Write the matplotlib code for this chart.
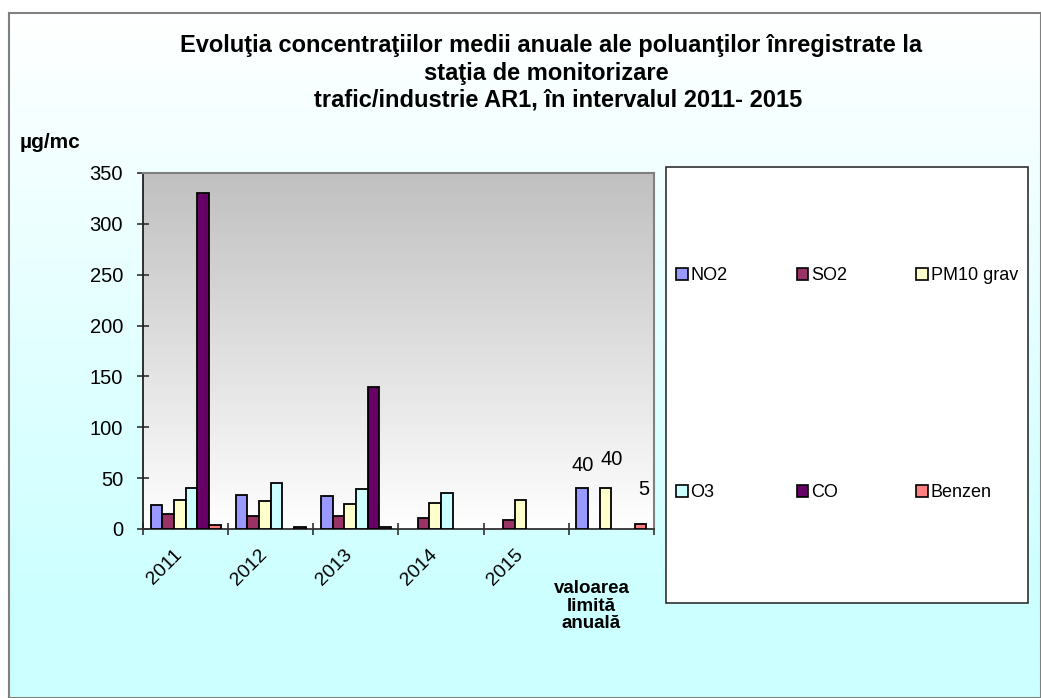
import numpy as np
import matplotlib
matplotlib.use("Agg")
import matplotlib.pyplot as plt
from matplotlib.patches import Rectangle, Patch

plt.rcParams['font.family'] = ['Liberation Sans', 'DejaVu Sans']

# Data
categories = ['2011', '2012', '2013', '2014', '2015', 'valoarea\nlimită\nanuală']
series_names = ['NO2', 'SO2', 'PM10 grav', 'O3', 'CO', 'Benzen']
no2 = [24, 33, 32, np.nan, np.nan, 40]
so2 = [15, 13, 13, 11, 8.5, np.nan]
pm10 = [29, 28, 25, 25.5, 28.5, 40]
o3 = [40, 45, 39, 35, np.nan, np.nan]
co = [330, np.nan, 140, np.nan, np.nan, np.nan]
benzen = [3.5, 2, 1.5, np.nan, np.nan, 5]
colors = ['#9999FF', '#993366', '#FFFFCC', '#CCFFFF', '#660066', '#FF8080']
y_ticks = [0, 50, 100, 150, 200, 250, 300, 350]
title_lines = ['Evoluţia concentraţiilor medii anuale ale poluanţilor înregistrate la',
               'staţia de monitorizare',
               'trafic/industrie AR1, în intervalul 2011- 2015']

W, H = 1041, 698
fig = plt.figure(figsize=(W / 100, H / 100), dpi=100)

# Chart area background: white to light cyan gradient, with grey border
bg = fig.add_axes([9 / W, 0, 1 - 9 / W, (H - 13) / H], zorder=0)
grad = np.linspace(0, 1, 256).reshape(-1, 1)
white = np.array([1.0, 1.0, 1.0])
cyan = np.array([0xCC, 0xFF, 0xFF]) / 255
bg.imshow(white + (cyan - white) * np.clip(grad * 1.15, 0, 1)[..., None],
          aspect='auto', extent=[0, 1, 0, 1])
bg.set_xlim(0, 1)
bg.set_ylim(0, 1)
bg.set_xticks([])
bg.set_yticks([])
for s in bg.spines.values():
    s.set_color('#808080')
    s.set_linewidth(1.5)

# Plot area
ax = fig.add_axes([143 / W, (H - 529) / H, (654 - 143) / W, (529 - 173) / H], zorder=2)
top_grey = np.array([0xC0, 0xC0, 0xC0]) / 255
pgrad = top_grey + (white - top_grey) * grad[..., None]
ax.imshow(pgrad, aspect='auto', extent=[0, 1, 0, 1], transform=ax.transAxes, zorder=0)

x = np.arange(len(categories))
width = 0.137
all_vals = [no2, so2, pm10, o3, co, benzen]
for i, (name, vals, col) in enumerate(zip(series_names, all_vals, colors)):
    ax.bar(x + (i - 2.5) * width, vals, width, color=col, edgecolor='black',
           linewidth=1.3, label=name, zorder=3)

ax.set_xlim(-0.5, len(categories) - 0.5)
ax.set_ylim(0, 350)

# Value labels on the annual limit group
limit_labels = [(0, 40), (2, 40), (5, 5)]
label_offsets = [(0, 16.5), (4.3, 21), (2.2, 25)]
for (si, val), (dx, dy) in zip(limit_labels, label_offsets):
    ax.annotate(f'{val}', xy=(5 + (si - 2.5) * width, val), xytext=(dx, dy),
                textcoords='offset points', ha='center', va='center', fontsize=14.5)

# Axes styling
for side in ['top', 'right']:
    ax.spines[side].set_color('#808080')
    ax.spines[side].set_linewidth(1.5)
ax.spines['left'].set_color('#202020')
ax.spines['left'].set_linewidth(1.3)
ax.spines['bottom'].set_color('#303030')
ax.spines['bottom'].set_linewidth(1.3)

ax.set_yticks(y_ticks)
ax.set_yticklabels([str(v) for v in y_ticks], fontsize=14.5)
ax.tick_params(axis='y', direction='inout', length=8.6, width=1.2, pad=10, color='#303030')

ax.set_xticks(x)
ax.set_xticklabels(categories[:-1] + [''], fontsize=14, rotation=45, ha='right')
ax.tick_params(axis='x', which='major', length=0, pad=12)
ax.set_xticks(np.arange(-0.5, len(categories)), minor=True)
ax.tick_params(axis='x', which='minor', direction='inout', length=8.6, width=1.2, color='#303030')
ax.annotate(categories[-1], xy=(5, 0), xycoords=('data', 'axes fraction'),
            xytext=(-14.4, -37), textcoords='offset points', ha='center', va='top',
            fontsize=13.5, fontweight='bold', linespacing=1.02)

# Title and unit
for line, cx, by in zip(title_lines, [551, 546, 558], [52, 80, 107]):
    fig.text(cx / W, (H - by) / H, line, ha='center', va='baseline', fontsize=17,
             fontweight='bold', zorder=3)
fig.text(20 / W, (H - 142) / H, 'µg/mc', ha='left', va='center', fontsize=15,
         fontweight='bold', zorder=3)

# Legend box
fig.patches.append(Rectangle((666 / W, (H - 603) / H), (1028 - 666) / W, (603 - 167) / H,
                             transform=fig.transFigure, facecolor='white',
                             edgecolor='#303030', linewidth=1.2, zorder=1))
handles = [Patch(facecolor=c, edgecolor='black', linewidth=1.2, label=n)
           for n, c in zip(series_names, colors)]
order = [0, 3, 1, 4, 2, 5]
fig.legend([handles[i] for i in order], [series_names[i] for i in order],
           ncol=3, loc='upper left', mode='expand', frameon=False,
           bbox_to_anchor=(676 / W, 0.30, (1018 - 676) / W, (H - 267) / H - 0.30),
           borderpad=0, borderaxespad=0, handlelength=0.65, handleheight=0.65,
           handletextpad=0.15, labelspacing=11.1, fontsize=13)

fig.savefig('out.png', dpi=100)
